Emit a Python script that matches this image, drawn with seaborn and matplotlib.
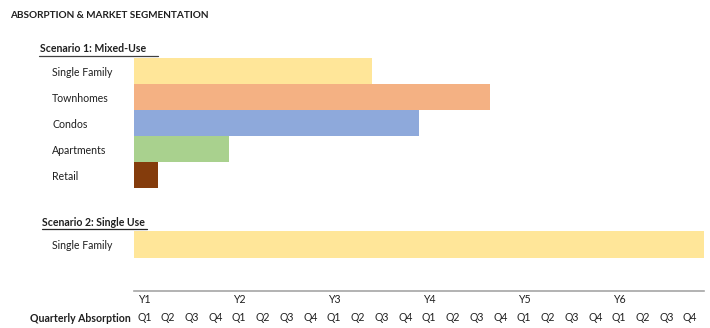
import matplotlib
matplotlib.use("Agg")
import matplotlib.pyplot as plt
from matplotlib.lines import Line2D
import seaborn as sns
import pandas as pd

# ---- data ----
title = "ABSORPTION & MARKET SEGMENTATION"
s1_title = "Scenario 1: Mixed-Use"
s1_segments = ["Single Family", "Townhomes", "Condos", "Apartments", "Retail"]
s1_quarters = [10, 15, 12, 4, 1]
s1_colors = ["#FFE699", "#F4B183", "#8EA9DB", "#A9D18E", "#843C0C"]

s2_title = "Scenario 2: Single Use"
s2_segments = ["Single Family"]
s2_quarters = [24]
s2_colors = ["#FFE699"]

years = ["Y1", "Y2", "Y3", "Y4", "Y5", "Y6"]
quarter_names = ["Q1", "Q2", "Q3", "Q4"]
axis_label = "Quarterly Absorption"

# ---- style ----
sns.set_style("white")
plt.rcParams["font.family"] = ["Lato", "DejaVu Sans"]
TXT = "#1F1F1F"
FS = 7.6

W, H = 710, 328
fig = plt.figure(figsize=(W / 100, H / 100), dpi=100)

x0, x1 = 134.3, 704.0
left = x0 / W
width = (x1 - x0) / W
n_q = len(years) * len(quarter_names)

def fy(py):
    return 1 - py / H

def draw(ax, segs, vals, cols):
    df = pd.DataFrame({"segment": segs, "quarters": vals})
    sns.barplot(data=df, x="quarters", y="segment", hue="segment",
                palette=cols, order=segs, hue_order=segs, width=1,
                saturation=1, linewidth=0, legend=False, ax=ax, orient="h")
    ax.set_xlim(0, n_q)
    ax.set_ylim(len(segs) - 0.5, -0.5)
    ax.set_xlabel("")
    ax.set_ylabel("")
    ax.set_xticks([])
    for s in ax.spines.values():
        s.set_visible(False)
    ax.tick_params(axis="y", length=0, pad=(x0 - 52.3) * 0.72, labelsize=FS,
                   labelcolor=TXT)
    for lbl in ax.get_yticklabels():
        lbl.set_horizontalalignment("left")

ax1 = fig.add_axes([left, fy(188), width, 130 / H])
draw(ax1, s1_segments, s1_quarters, s1_colors)

ax2 = fig.add_axes([left, fy(257.5), width, 26.5 / H])
draw(ax2, s2_segments, s2_quarters, s2_colors)

# titles
fig.text(10 / W, fy(15), title, fontsize=7.2, fontweight="bold", color=TXT,
         va="center", ha="left")
fig.text(40 / W, fy(49), s1_title, fontsize=FS, fontweight="bold", color=TXT,
         va="center", ha="left")
fig.add_artist(Line2D([39 / W, 158 / W], [fy(55.5), fy(55.5)],
                      color="#404040", lw=0.9, transform=fig.transFigure))
fig.text(42 / W, fy(222), s2_title, fontsize=FS, fontweight="bold", color=TXT,
         va="center", ha="left")
fig.add_artist(Line2D([42 / W, 147 / W], [fy(228.5), fy(228.5)],
                      color="#262626", lw=0.9, transform=fig.transFigure))

# quarter axis
ax3 = fig.add_axes([left, 0, width, (H - 290.5) / H])
ax3.set_xlim(0, n_q)
ax3.set_ylim(H, 290.5)
ax3.set_xticks([])
ax3.set_yticks([])
for k, s in ax3.spines.items():
    s.set_visible(k == "top")
ax3.spines["top"].set_color("#A6A6A6")
ax3.spines["top"].set_linewidth(1.2)
ax3.patch.set_alpha(0)
q = 0
for y in years:
    ax3.text(q + 0.42, 300, y, fontsize=FS, color=TXT, ha="center", va="center")
    for qn in quarter_names:
        ax3.text(q + 0.42, 318, qn, fontsize=FS, color=TXT, ha="center", va="center")
        q += 1
fig.text(131 / W, fy(318), axis_label, fontsize=FS, fontweight="bold",
         color=TXT, ha="right", va="center")

fig.savefig("out.png", dpi=100)
